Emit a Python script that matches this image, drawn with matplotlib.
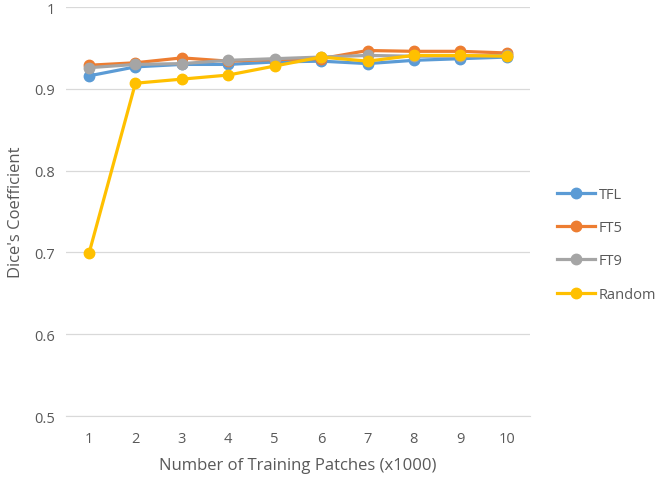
import matplotlib.pyplot as plt

patches = [1, 2, 3, 4, 5, 6, 7, 8, 9, 10]
tfl = [0.916, 0.927, 0.930, 0.930, 0.933, 0.934, 0.931, 0.935, 0.937, 0.939]
ft5 = [0.929, 0.932, 0.938, 0.934, 0.936, 0.937, 0.947, 0.946, 0.946, 0.944]
ft9 = [0.926, 0.930, 0.931, 0.935, 0.937, 0.939, 0.941, 0.940, 0.940, 0.941]
rnd = [0.699, 0.907, 0.912, 0.917, 0.928, 0.939, 0.934, 0.941, 0.941, 0.940]

series = [('TFL', tfl, '#5B9BD5'), ('FT5', ft5, '#ED7D31'),
          ('FT9', ft9, '#A5A5A5'), ('Random', rnd, '#FFC000')]

plt.rcParams['font.family'] = ['Open Sans', 'DejaVu Sans']
fig = plt.figure(figsize=(6.6, 4.81), dpi=100)
ax = fig.add_axes([0.0997, 0.133, 0.7033, 0.850])

for name, vals, col in series:
    ax.plot(patches, vals, color=col, lw=2.3, marker='o', ms=7.5, label=name)

ax.set_xlim(0.5, 10.5)
ax.set_ylim(0.5, 1.0)
ax.set_xticks(patches)
ax.set_yticks([0.5, 0.6, 0.7, 0.8, 0.9, 1.0])
ax.set_yticklabels(['0.5', '0.6', '0.7', '0.8', '0.9', '1'])
ax.grid(axis='y', color='#D9D9D9', lw=0.9)
ax.set_axisbelow(True)
for s in ['top', 'right', 'left']:
    ax.spines[s].set_visible(False)
ax.spines['bottom'].set_color('#D9D9D9')
ax.tick_params(axis='x', length=0, colors='#595959', labelsize=10.5, pad=11)
ax.tick_params(axis='y', length=0, colors='#595959', labelsize=10.5, pad=8)
ax.set_xlabel('Number of Training Patches (x1000)', color='#595959', fontsize=12, labelpad=8)
ax.set_ylabel("Dice's Coefficient", color='#595959', fontsize=12, labelpad=7)

leg = ax.legend(loc='center left', bbox_to_anchor=(1.03, 0.42), frameon=False,
                labelspacing=1.25, handlelength=2.6, handletextpad=0.25, fontsize=10.5)
for t in leg.get_texts():
    t.set_color('#595959')

fig.savefig('out.png', dpi=100)
